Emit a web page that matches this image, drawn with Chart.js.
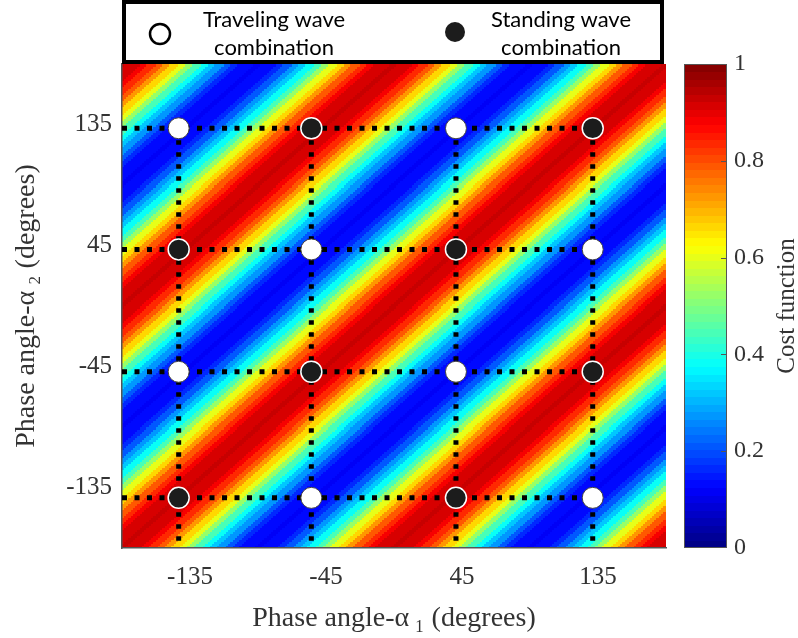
<!DOCTYPE html>
<html>
<head>
<meta charset="utf-8">
<script src="https://cdn.jsdelivr.net/npm/chart.js@4.4.0/dist/chart.umd.min.js"></script>
<style>
  html, body { margin: 0; padding: 0; background: #fff; }
  #wrap { width: 798px; height: 638px; }
</style>
</head>
<body>
<div id="wrap"><canvas id="phase_chart"></canvas></div>
<script>
// tick labels on both phase axes (degrees)
const phase_ticks = [-135, -45, 45, 135];
const cost_ticks = [0, 0.2, 0.4, 0.6, 0.8, 1];

// cost function against phase difference alpha_2 - alpha_1, every 5 degrees (period 180)
const diff_step = 5;
const cost_profile = [0.93, 0.92, 0.91, 0.88, 0.84, 0.79, 0.73, 0.66, 0.60, 0.53, 0.45, 0.39,
                      0.32, 0.27, 0.21, 0.17, 0.14, 0.13, 0.12, 0.13, 0.14, 0.17, 0.21, 0.27,
                      0.32, 0.39, 0.45, 0.53, 0.60, 0.66, 0.73, 0.79, 0.84, 0.88, 0.91, 0.92];

// dotted guide lines through the combinations
const grid_a1 = [-142.5, -54.7, 41, 131.5];
const grid_a2 = [132.2, 42.1, -48.9, -142.7];

// combination markers (alpha_1, alpha_2)
const traveling_a1 = [-142.5, 41, -54.7, 131.5, -142.5, 41, -54.7, 131.5];
const traveling_a2 = [132.2, 132.2, 42.1, 42.1, -48.9, -48.9, -142.7, -142.7];
const standing_a1 = [-54.7, 131.5, -142.5, 41, -54.7, 131.5, -142.5, 41];
const standing_a2 = [132.2, 132.2, 42.1, 42.1, -48.9, -48.9, -142.7, -142.7];

const legend_labels = [["Traveling wave", "combination"], ["Standing wave", "combination"]];

const serif = "'Liberation Serif', 'Times New Roman', serif";
const text_color = "#333";

// jet colour map, 64 levels
function jet(v)
{
    const n = 64;
    const i = Math.min(n - 1, Math.max(0, Math.floor(v * n)));
    const t = (i + 0.5) / n;
    const c = (a) => Math.round(255 * Math.min(1, Math.max(0, a)));
    const r = c(Math.min(4 * t - 1.5, -4 * t + 4.5));
    const g = c(Math.min(4 * t - 0.5, -4 * t + 3.5));
    const b = c(Math.min(4 * t + 0.5, -4 * t + 2.5));
    return "rgb(" + r + "," + g + "," + b + ")";
}

function cost_at(a1, a2)
{
    let d = (a2 - a1) % 180;
    if (d < 0) d += 180;
    const i = Math.round(d / diff_step) % cost_profile.length;
    return cost_profile[i];
}

// keep the plot box fixed: no extra room for labels sitting on the edges
function no_edge_padding(axis)
{
    axis.paddingTop = 0;
    axis.paddingBottom = 0;
    axis.paddingLeft = 0;
    axis.paddingRight = 0;
}

const heatmap_plugin =
{
    id: "heatmap",
    beforeDraw(chart)
    {
        const { ctx, chartArea: area, scales: { x, y } } = chart;
        const step = 1.5;
        ctx.save();
        ctx.beginPath();
        ctx.rect(area.left, area.top, area.right - area.left, area.bottom - area.top);
        ctx.clip();
        for (let a1 = x.min; a1 < x.max; a1 += step)
        {
            const x0 = Math.floor(x.getPixelForValue(a1));
            const x1 = Math.ceil(x.getPixelForValue(a1 + step));
            for (let a2 = y.min; a2 < y.max; a2 += step)
            {
                const y0 = Math.floor(y.getPixelForValue(a2 + step));
                const y1 = Math.ceil(y.getPixelForValue(a2));
                ctx.fillStyle = jet(cost_at(a1 + step / 2, a2 + step / 2));
                ctx.fillRect(x0, y0, x1 - x0, y1 - y0);
            }
        }
        ctx.restore();
    }
};

const colorbar_plugin =
{
    id: "colorbar",
    afterDraw(chart)
    {
        const { ctx, chartArea: area, scales: { cb } } = chart;
        const left = area.right + 18;
        const width = 43;
        const n = 64;
        ctx.save();
        for (let i = 0; i < n; i++)
        {
            const y0 = cb.getPixelForValue((i + 1) / n);
            const y1 = cb.getPixelForValue(i / n);
            ctx.fillStyle = jet((i + 0.5) / n);
            ctx.fillRect(left, Math.floor(y0), width, Math.ceil(y1) - Math.floor(y0));
        }
        ctx.strokeStyle = "#555";
        ctx.lineWidth = 1;
        ctx.strokeRect(left + 0.5, cb.top + 0.5, width - 1, cb.bottom - cb.top - 1);
        ctx.beginPath();
        cost_ticks.forEach((v) =>
        {
            if (v === 0 || v === 1) return;
            const py = Math.round(cb.getPixelForValue(v)) + 0.5;
            ctx.moveTo(left + width - 6, py);
            ctx.lineTo(left + width, py);
        });
        ctx.stroke();

        ctx.translate(787, (area.top + area.bottom) / 2);
        ctx.rotate(-Math.PI / 2);
        ctx.fillStyle = text_color;
        ctx.font = "25px " + serif;
        ctx.textAlign = "center";
        ctx.textBaseline = "middle";
        ctx.fillText("Cost function", 0, 0);
        ctx.restore();
    }
};

const legend_plugin =
{
    id: "legend_box",
    afterDraw(chart)
    {
        const { ctx } = chart;
        ctx.save();
        ctx.fillStyle = "#fff";
        ctx.fillRect(124, 2, 538, 60);
        ctx.strokeStyle = "#000";
        ctx.lineWidth = 4;
        ctx.strokeRect(124, 2, 538, 60);

        // open and filled markers
        ctx.beginPath();
        ctx.arc(160, 34, 10, 0, 2 * Math.PI);
        ctx.fillStyle = "#fff";
        ctx.fill();
        ctx.lineWidth = 2.5;
        ctx.stroke();
        ctx.beginPath();
        ctx.arc(455, 32, 10, 0, 2 * Math.PI);
        ctx.fillStyle = "#1c1c1c";
        ctx.fill();

        ctx.fillStyle = "#000";
        ctx.font = "22px Lato, 'Open Sans', sans-serif";
        ctx.textAlign = "center";
        ctx.textBaseline = "middle";
        const centers = [274, 561];
        legend_labels.forEach((lines, k) =>
        {
            ctx.fillText(lines[0], centers[k], 20);
            ctx.fillText(lines[1], centers[k], 48);
        });
        ctx.restore();
    }
};

function points(xs, ys)
{
    return xs.map((v, i) => ({ x: v, y: ys[i] }));
}

const guide_lines = [];
grid_a2.forEach((r) =>
{
    guide_lines.push(
    {
        data: [{ x: -180, y: r }, { x: Math.max(...grid_a1), y: r }],
        showLine: true,
        borderColor: "#000",
        borderWidth: 5,
        borderDash: [5, 7.5],
        borderCapStyle: "butt",
        pointRadius: 0,
        order: 5
    });
});
grid_a1.forEach((c) =>
{
    guide_lines.push(
    {
        data: [{ x: c, y: Math.max(...grid_a2) }, { x: c, y: -180 }],
        showLine: true,
        borderColor: "#000",
        borderWidth: 5,
        borderDash: [4.5, 7.5],
        borderCapStyle: "butt",
        pointRadius: 0,
        order: 5
    });
});

const phase_chart = new Chart("phase_chart",
{
    type: "scatter",
    data:
    {
        datasets:
        [
            {
                label: "Traveling wave combination",
                data: points(traveling_a1, traveling_a2),
                pointRadius: 10.5,
                pointBackgroundColor: "#fff",
                pointBorderColor: "#444",
                pointBorderWidth: 1,
                order: 0
            },
            {
                label: "Standing wave combination",
                data: points(standing_a1, standing_a2),
                pointRadius: 10.5,
                pointBackgroundColor: "#1c1c1c",
                pointBorderColor: "#fff",
                pointBorderWidth: 1.5,
                order: 1
            },
            ...guide_lines
        ]
    },
    options:
    {
        animation: false,
        responsive: true,
        maintainAspectRatio: false,
        layout: { padding: { top: 64, left: 0, right: 0, bottom: 0 } },
        plugins:
        {
            legend: { display: false },
            tooltip: { enabled: false }
        },
        scales:
        {
            x:
            {
                type: "linear",
                min: -180,
                max: 180,
                afterBuildTicks: (axis) => { axis.ticks = phase_ticks.map((v) => ({ value: v })); },
                afterFit: (axis) => { axis.height = 90; no_edge_padding(axis); },
                grid: { display: false, drawTicks: false },
                border: { display: true, color: "#555", width: 1.5 },
                ticks: { color: text_color, font: { family: serif, size: 25 }, padding: 14, maxRotation: 0 },
                title:
                {
                    display: true,
                    text: "Phase angle-\u03b1\u2009\u2081 (degrees)",
                    color: text_color,
                    font: { family: serif, size: 28, lineHeight: 1.2 },
                    padding: { top: 0, bottom: 3 }
                }
            },
            y:
            {
                type: "linear",
                min: -180,
                max: 180,
                afterBuildTicks: (axis) => { axis.ticks = phase_ticks.map((v) => ({ value: v })); },
                afterFit: (axis) => { axis.width = 122; no_edge_padding(axis); },
                grid: { display: false, drawTicks: false },
                border: { display: true, color: "#555", width: 1.5 },
                ticks: { color: text_color, font: { family: serif, size: 25 }, padding: 10 },
                title:
                {
                    display: true,
                    text: "Phase angle-\u03b1\u2009\u2082 (degrees)",
                    color: text_color,
                    font: { family: serif, size: 28, lineHeight: 1.2 },
                    padding: { top: 10, bottom: 0 }
                }
            },
            cb:
            {
                type: "linear",
                position: "right",
                min: 0,
                max: 1,
                afterBuildTicks: (axis) => { axis.ticks = cost_ticks.map((v) => ({ value: v })); },
                afterFit: (axis) => { axis.width = 132; no_edge_padding(axis); },
                grid: { display: false, drawTicks: false },
                border: { display: false },
                ticks:
                {
                    color: text_color,
                    font: { family: serif, size: 24 },
                    padding: 68,
                    callback: (v) => String(v)
                }
            }
        }
    },
    plugins: [heatmap_plugin, colorbar_plugin, legend_plugin]
});
</script>
</body>
</html>
